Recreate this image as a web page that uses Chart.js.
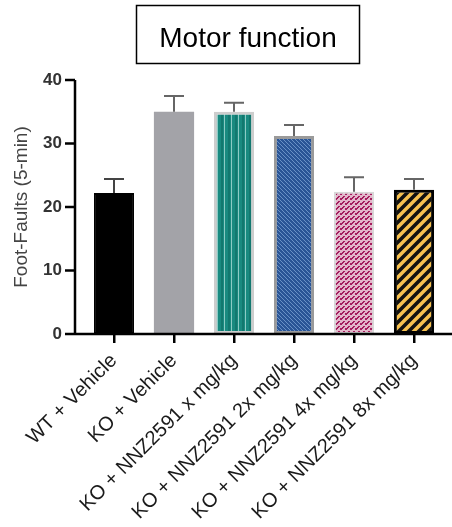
<!DOCTYPE html>
<html>
<head>
<meta charset="utf-8">
<script src="https://cdn.jsdelivr.net/npm/chart.js@4"></script>
<style>
  body { margin: 0; background: #fff; }
  canvas { display: block; }
</style>
</head>
<body>
<canvas id="motorChart" width="452" height="527"></canvas>
<script>
// data
const categories = [
  'WT + Vehicle',
  'KO + Vehicle',
  'KO + NNZ2591 x mg/kg',
  'KO + NNZ2591 2x mg/kg',
  'KO + NNZ2591 4x mg/kg',
  'KO + NNZ2591 8x mg/kg'
];
const meanValues = [22.2, 35.0, 35.0, 31.2, 22.4, 22.7];
const errorValues = [2.2, 2.5, 1.4, 1.7, 2.3, 1.7];
const yTicks = [0, 10, 20, 30, 40];
const titleText = 'Motor function';
const yTitle = 'Foot-Faults (5-min)';

// small canvas patterns for the bar fills
function makePattern(w, h, base, draw) {
  const c = document.createElement('canvas');
  c.width = w;
  c.height = h;
  const g = c.getContext('2d');
  g.fillStyle = base;
  g.fillRect(0, 0, w, h);
  draw(g);
  return g.createPattern(c, 'repeat');
}

const tealStripes = makePattern(7, 4, '#198a80', g => {
  g.fillStyle = '#8ccbc5';
  g.fillRect(0, 0, 1, 4);
  g.fillStyle = '#12786f';
  g.fillRect(4, 0, 2, 4);
});

const blueHatch = makePattern(4, 4, '#2a5596', g => {
  g.fillStyle = '#6a91c6';
  for (let i = 0; i < 4; i++) g.fillRect(i, i, 1, 1);
});

const pinkDots = makePattern(5, 5, '#e3b6ca', g => {
  g.fillStyle = '#a41d5d';
  [[1, 3], [2, 2], [2, 3], [3, 2], [3, 1], [4, 1], [0, 4], [1, 4], [0, 3]]
    .forEach(p => g.fillRect(p[0], p[1], 1, 1));
});

const yellowStripes = makePattern(10, 10, '#f6c150', g => {
  g.strokeStyle = '#111';
  g.lineWidth = 3.6;
  g.beginPath();
  g.moveTo(0, 10); g.lineTo(10, 0);
  g.moveTo(-5, 5); g.lineTo(5, -5);
  g.moveTo(5, 15); g.lineTo(15, 5);
  g.stroke();
});

const fills = ['#000000', '#a3a3a8', tealStripes, blueHatch, pinkDots, yellowStripes];
const borders = ['#000000', '#a3a3a8', '#cdcdcd', '#9a9a9a', '#d8d8d8', '#000000'];
const borderWidths = [2, 0, 3, 3, 2, 3];

// error bars (upper only), drawn from the bar top
const errorBars = {
  id: 'errorBars',
  afterDatasetsDraw(chart) {
    const ctx = chart.ctx;
    const y = chart.scales.y;
    const meta = chart.getDatasetMeta(0);
    ctx.save();
    ctx.lineWidth = 2;
    meta.data.forEach((bar, i) => {
      const top = y.getPixelForValue(meanValues[i] + errorValues[i]);
      ctx.strokeStyle = i === 0 ? '#444' : '#666';
      ctx.beginPath();
      ctx.moveTo(bar.x, bar.y);
      ctx.lineTo(bar.x, top);
      ctx.moveTo(bar.x - 10, top);
      ctx.lineTo(bar.x + 10, top);
      ctx.stroke();
    });
    ctx.restore();
  }
};

// Prism-style axes: y line set off to the left of the first bar
const prismAxes = {
  id: 'prismAxes',
  afterDraw(chart) {
    const ctx = chart.ctx;
    const area = chart.chartArea;
    const y = chart.scales.y;
    const axisX = area.left - 9;
    ctx.save();
    ctx.strokeStyle = '#000';
    ctx.lineWidth = 2.5;
    ctx.beginPath();
    ctx.moveTo(axisX, y.getPixelForValue(40));
    ctx.lineTo(axisX, area.bottom);
    ctx.moveTo(axisX - 1, area.bottom);
    ctx.lineTo(chart.width, area.bottom);
    yTicks.forEach(t => {
      const py = y.getPixelForValue(t);
      ctx.moveTo(axisX - 10, py);
      ctx.lineTo(axisX, py);
    });
    ctx.stroke();

    // y title
    ctx.fillStyle = '#444';
    ctx.font = '19px "Liberation Sans", Arial, sans-serif';
    ctx.textAlign = 'center';
    ctx.textBaseline = 'middle';
    ctx.translate(22, (area.top + area.bottom) / 2);
    ctx.rotate(-Math.PI / 2);
    ctx.fillText(yTitle, 0, 0);
    ctx.restore();

    // boxed title
    ctx.save();
    ctx.strokeStyle = '#000';
    ctx.lineWidth = 1.5;
    ctx.strokeRect(136.5, 5.5, 223, 58);
    ctx.fillStyle = '#000';
    ctx.font = '28px "Liberation Sans", Arial, sans-serif';
    ctx.textAlign = 'center';
    ctx.textBaseline = 'alphabetic';
    ctx.fillText(titleText, 248, 47);
    ctx.restore();
  }
};

const ctx = document.getElementById('motorChart').getContext('2d');
new Chart(ctx, {
  type: 'bar',
  data: {
    labels: categories,
    datasets: [{
      data: meanValues,
      backgroundColor: fills,
      borderColor: borders,
      borderWidth: borderWidths,
      borderSkipped: false,
      barPercentage: 0.67,
      categoryPercentage: 1
    }]
  },
  options: {
    responsive: false,
    animation: false,
    layout: { padding: { top: 80, right: 8, left: 0, bottom: 0 } },
    plugins: {
      legend: { display: false },
      title: { display: false },
      tooltip: { enabled: false }
    },
    scales: {
      x: {
        afterFit: s => { s.height = 193; },
        border: { display: false },
        grid: {
          display: true,
          drawOnChartArea: false,
          offset: false,
          tickLength: 9,
          lineWidth: 2.5,
          color: '#000'
        },
        ticks: {
          minRotation: 45,
          maxRotation: 45,
          padding: 6,
          color: '#1a1a1a',
          font: { family: '"Liberation Sans", Arial, sans-serif', size: 20 }
        }
      },
      y: {
        min: 0,
        max: 40,
        afterFit: s => { s.width = 84; },
        afterBuildTicks: s => { s.ticks = yTicks.map(v => ({ value: v })); },
        border: { display: false },
        grid: { display: false, drawTicks: false },
        ticks: {
          padding: 22,
          color: '#333',
          font: { family: '"Liberation Sans", Arial, sans-serif', size: 17, weight: 'bold' }
        }
      }
    }
  },
  plugins: [errorBars, prismAxes]
});
</script>
</body>
</html>
